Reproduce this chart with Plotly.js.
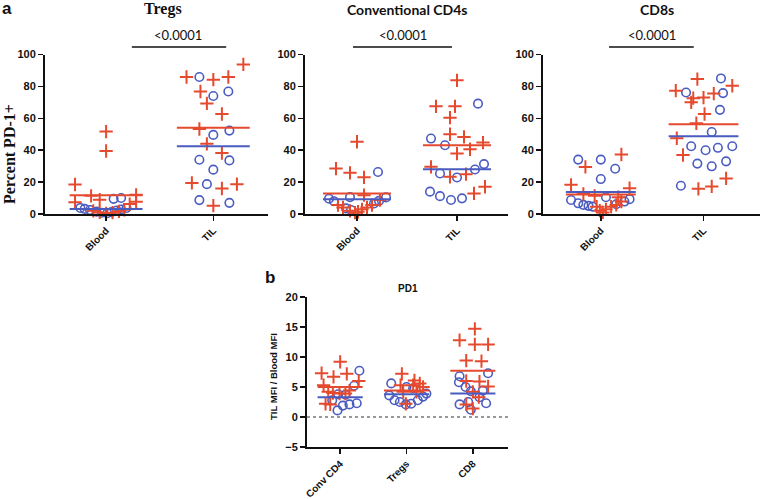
<!DOCTYPE html>
<html>
<head>
<meta charset="utf-8">
<script src="https://cdn.plot.ly/plotly-3.0.1.min.js"></script>
<style>
  html, body { margin: 0; padding: 0; background: #fff; }
  #chart { width: 760px; height: 499px; }
</style>
</head>
<body>
<div id="chart"></div>
<script>
// ---- data (x = horizontal scatter offset within a column) ----
// panel a: Tregs
let tregsBloodPlusX = [0, 0, -0.29, -0.14, -0.06, -0.29, 0.28, 0.28, 0.22, -0.12, -0.06, 0, 0.06, 0.12, 0.17]
let tregsBloodPlusY = [51.7, 39.5, 18.5, 11.4, 9, 7.3, 12, 7.7, 6.2, 2, 1, 0.3, 0.8, 1.6, 2.6]
let tregsBloodCircX = [0.07, 0.14, -0.24, -0.2, -0.15, -0.09, -0.04, 0.01, 0.05, 0.1, 0.14, 0.19]
let tregsBloodCircY = [9.5, 10, 3.8, 3.2, 2.5, 1.5, 0.8, 0.5, 1.2, 2.2, 2.8, 3.8]
let tregsTilPlusX = [-0.25, 0, 0.14, 0.28, -0.12, -0.06, 0.08, -0.13, -0.06, 0.08, -0.2, 0.08, 0.22, 0]
let tregsTilPlusY = [85.9, 84.2, 85.9, 93.8, 76.8, 69.3, 62.7, 53.3, 44, 38.2, 19.5, 16, 18.7, 5.2]
let tregsTilCircX = [-0.13, 0, 0.14, 0, 0.15, -0.13, 0.15, 0, -0.06, -0.13, 0.15]
let tregsTilCircY = [85.9, 74, 76.8, 49.6, 52.3, 34, 33.6, 27.8, 18.7, 8.7, 7]
let tregsMeans = { plus: [11.8, 54], circ: [3.1, 42.5] }

// panel a: Conventional CD4s
let cd4BloodPlusX = [0, -0.21, -0.07, 0.07, 0.07, -0.19, -0.14, -0.07, -0.02, 0.01, 0.05, 0.1, 0.15, 0.23]
let cd4BloodPlusY = [45.3, 28.5, 25.8, 23, 11.8, 5.6, 4.1, 2, 0.8, 1.4, 2.9, 4.1, 5.6, 8.7]
let cd4BloodCircX = [0.21, -0.07, -0.28, -0.23, -0.11, -0.06, 0.17, 0.22, 0.29]
let cd4BloodCircY = [26.3, 10.6, 9.6, 8, 3.5, 2.5, 6.6, 8.2, 10.4]
let cd4TilPlusX = [0, -0.21, -0.02, -0.07, -0.07, 0.07, 0, 0.13, 0.26, -0.26, -0.07, 0.09, 0.17, 0.28]
let cd4TilPlusY = [83.8, 67.5, 67.5, 60.4, 50, 48.3, 37.9, 40.6, 44.8, 29.6, 23.3, 25, 12.9, 17.1]
let cd4TilCircX = [0.21, -0.26, -0.12, -0.17, 0, 0.18, 0.27, -0.27, -0.17, -0.06, 0.05]
let cd4TilCircY = [69.2, 47.3, 43.1, 25.4, 22.9, 27.9, 31.3, 14, 11.2, 8.8, 9.8]
let cd4Means = { plus: [12.9, 43.1], circ: [9.2, 28.1] }

// panel a: CD8s
let cd8BloodPlusX = [0.2, -0.15, -0.29, 0.28, -0.17, -0.06, 0.17, -0.04, -0.01, 0.02, 0.05, 0.1, 0.15, 0.2]
let cd8BloodPlusY = [37.3, 29.5, 18.3, 16.2, 12.6, 11.4, 10.5, 4.6, 2.1, 1, 2.9, 4.6, 5.7, 7.8]
let cd8BloodCircX = [-0.22, 0, 0.14, 0, 0.05, -0.29, -0.22, -0.17, -0.12, -0.08, 0.15, 0.23, 0.28]
let cd8BloodCircY = [34.1, 34.1, 28.4, 21.9, 10.5, 8.8, 6.7, 5.7, 5.1, 4.6, 6.1, 7.8, 9.3]
let cd8TilPlusX = [-0.06, 0.28, -0.27, 0.1, 0, -0.1, -0.12, 0.01, -0.07, -0.26, -0.2, 0.22, 0.08, -0.05]
let cd8TilPlusY = [84.6, 80.4, 77.3, 75.5, 73, 72.6, 70, 62.7, 56.9, 47.5, 37, 22.3, 17.3, 15.8]
let cd8TilCircX = [0.17, -0.17, 0.19, 0.16, 0.08, -0.12, 0.02, 0.14, 0.28, -0.06, 0.08, 0.22, -0.22]
let cd8TilCircY = [85, 76.2, 75.8, 65.3, 51.4, 42.5, 40, 41.5, 42.5, 31.6, 29.9, 33, 17.7]
let cd8Means = { plus: [12.2, 56.2], circ: [13.8, 48.8] }

// panel b: PD1 TIL MFI / Blood MFI
let mfiConvPlusX = [0, -0.28, -0.1, 0.1, 0.28, -0.25, -0.18, -0.11, -0.01, 0.08, 0.14, -0.22, -0.15]
let mfiConvPlusY = [9.2, 7.3, 6.7, 7.2, 6, 5.3, 4.2, 4, 3.9, 3.9, 4.4, 2.2, 2.1]
let mfiConvCircX = [0.29, 0.21, -0.12, -0.03, 0.08, -0.04, 0.04, 0.14, 0.25]
let mfiConvCircY = [7.7, 5.2, 2.8, 3.8, 3.7, 1.1, 1.9, 2.1, 2.3]
let mfiTregPlusX = [-0.07, -0.09, 0.12, 0.2, 0.1, -0.05, -0.01, 0.25, 0.15]
let mfiTregPlusY = [7.2, 5.3, 6.1, 5.6, 5.3, 4.2, 2.2, 5, 4.2]
let mfiTregCircX = [-0.23, -0.26, -0.18, -0.1, -0.01, 0.07, 0.17, 0.25, 0.3, 0, 0.1]
let mfiTregCircY = [5.6, 3.6, 2.8, 2.5, 2.1, 2.2, 2.8, 3.4, 3.9, 5, 4.8]
let mfiCd8PlusX = [0.03, -0.2, 0.03, 0.23, -0.1, 0.13, -0.1, 0.1, 0.23, 0, 0.09, -0.1, 0]
let mfiCd8PlusY = [14.7, 12.8, 12.1, 12.1, 9.4, 9.3, 6, 5.9, 5.1, 4.2, 3.3, 2.1, 1.4]
let mfiCd8CircX = [-0.2, -0.21, -0.11, -0.03, 0.15, 0.23, 0.1, -0.2, -0.07, -0.03, 0.2]
let mfiCd8CircY = [6.8, 5.8, 5, 4.3, 4.4, 7.3, 3.3, 2.1, 2.5, 1.2, 2.3]
let mfiMeans = { plus: [5.0, 4.4, 7.7], circ: [3.3, 3.8, 3.9] }

let topCats = ['Blood', 'TIL']
let mfiCats = ['Conv CD4', 'Tregs', 'CD8']

// ---- drawing ----
const RED = '#e64a2e'
const BLUE = '#4a5cc0'
const W = 760, H = 499
let px = v => v / W
let py = v => 1 - v / H

let traceArr = []

let addPoints = function (ax, center, xs, ys, kind) {
    let red = kind === 'plus'
    traceArr.push({
        x: xs.map(d => center + d),
        y: ys,
        xaxis: 'x' + ax, yaxis: 'y' + ax,
        mode: 'markers', type: 'scatter', cliponaxis: false,
        marker: red
            ? { symbol: 'cross-thin-open', size: 9.5, color: RED, line: { color: RED, width: 2 } }
            : { symbol: 'circle-open', size: 8.5, color: BLUE, line: { color: BLUE, width: 1.6 } }
    })
}

let addMean = function (ax, center, val, kind) {
    traceArr.push({
        x: [center - 0.34, center + 0.34],
        y: [val, val],
        xaxis: 'x' + ax, yaxis: 'y' + ax,
        mode: 'lines', type: 'scatter', cliponaxis: false,
        line: { color: kind === 'plus' ? RED : BLUE, width: 2 }
    })
}

// panel a
addPoints('', 0, tregsBloodCircX, tregsBloodCircY, 'circ')
addPoints('', 0, tregsBloodPlusX, tregsBloodPlusY, 'plus')
addPoints('', 1, tregsTilCircX, tregsTilCircY, 'circ')
addPoints('', 1, tregsTilPlusX, tregsTilPlusY, 'plus')
addPoints('2', 0, cd4BloodCircX, cd4BloodCircY, 'circ')
addPoints('2', 0, cd4BloodPlusX, cd4BloodPlusY, 'plus')
addPoints('2', 1, cd4TilCircX, cd4TilCircY, 'circ')
addPoints('2', 1, cd4TilPlusX, cd4TilPlusY, 'plus')
addPoints('3', 0, cd8BloodCircX, cd8BloodCircY, 'circ')
addPoints('3', 0, cd8BloodPlusX, cd8BloodPlusY, 'plus')
addPoints('3', 1, cd8TilCircX, cd8TilCircY, 'circ')
addPoints('3', 1, cd8TilPlusX, cd8TilPlusY, 'plus')
;[['', tregsMeans], ['2', cd4Means], ['3', cd8Means]].forEach(([ax, m]) => {
    m.plus.forEach((v, i) => addMean(ax, i, v, 'plus'))
    m.circ.forEach((v, i) => addMean(ax, i, v, 'circ'))
})

// panel b
addPoints('4', 0, mfiConvCircX, mfiConvCircY, 'circ')
addPoints('4', 0, mfiConvPlusX, mfiConvPlusY, 'plus')
addPoints('4', 1, mfiTregCircX, mfiTregCircY, 'circ')
addPoints('4', 1, mfiTregPlusX, mfiTregPlusY, 'plus')
addPoints('4', 2, mfiCd8CircX, mfiCd8CircY, 'circ')
addPoints('4', 2, mfiCd8PlusX, mfiCd8PlusY, 'plus')
mfiMeans.plus.forEach((v, i) => addMean('4', i, v, 'plus'))
mfiMeans.circ.forEach((v, i) => addMean('4', i, v, 'circ'))

let tickFont = { family: 'Liberation Sans, Arial, sans-serif', size: 11, color: '#111', weight: 'bold' }

let xAx = function (dom, range, cats, anchor) {
    return {
        domain: dom, range: range, anchor: anchor,
        tickvals: cats.map((c, i) => i), ticktext: cats, tickangle: -45,
        tickfont: Object.assign({}, tickFont, { size: 10 }),
        showline: true, linecolor: '#111', linewidth: 2,
        ticks: 'outside', ticklen: 5, tickwidth: 1.5, tickcolor: '#111',
        showgrid: false, zeroline: false, fixedrange: true
    }
}
let yAx = function (dom, range, dtick, anchor) {
    return {
        domain: dom, range: range, anchor: anchor, dtick: dtick, tick0: 0,
        tickfont: tickFont,
        showline: true, linecolor: '#111', linewidth: 2,
        ticks: 'outside', ticklen: 5, tickwidth: 1.5, tickcolor: '#111',
        showgrid: false, zeroline: false, fixedrange: true
    }
}

let topY = [py(214), py(54.5)]
let sigLine = (xr, x0, x1) => ({
    type: 'line', xref: xr, yref: 'paper', x0: x0, x1: x1, y0: py(47), y1: py(47),
    line: { color: '#111', width: 1.5 }
})
let note = (text, x, y, font, extra) => Object.assign({
    text: text, xref: 'paper', yref: 'paper', x: x, y: y,
    xanchor: 'center', yanchor: 'middle', showarrow: false, font: font
}, extra || {})

let serifBold = { family: 'Liberation Serif, DejaVu Serif, serif', size: 16, color: '#111', weight: 'bold' }
let latoBold = { family: 'Lato, Open Sans, sans-serif', size: 14, color: '#111', weight: 'bold' }
let latoReg = { family: 'Lato, Open Sans, sans-serif', size: 13, color: '#111' }
let sansBold = { family: 'Liberation Sans, Arial, sans-serif', size: 17, color: '#111', weight: 'bold' }

let layout = {
    width: W, height: H,
    margin: { l: 0, r: 0, t: 0, b: 0 },
    showlegend: false,
    paper_bgcolor: '#fff', plot_bgcolor: 'rgba(0,0,0,0)',
    xaxis: xAx([px(45), px(268)], [-0.57, 1.51], topCats, 'y'),
    yaxis: yAx(topY, [0, 100], 20, 'x'),
    xaxis2: xAx([px(305), px(508)], [-0.52, 1.51], topCats, 'y2'),
    yaxis2: yAx(topY, [0, 100], 20, 'x2'),
    xaxis3: xAx([px(543), px(760)], [-0.563, 1.55], topCats, 'y3'),
    yaxis3: yAx(topY, [0, 100], 20, 'x3'),
    xaxis4: xAx([px(307), px(508)], [-0.5, 2.53], mfiCats, 'y4'),
    yaxis4: yAx([py(447), py(297)], [-5, 20], 5, 'x4'),
    shapes: [
        sigLine('x', 0.24, 1.12),
        sigLine('x2', -0.04, 0.95),
        sigLine('x3', 0.08, 0.905),
        { type: 'line', xref: 'paper', yref: 'y4', x0: px(307), x1: px(508), y0: 0, y1: 0,
          line: { color: '#333', width: 1, dash: 'dot' } }
    ],
    annotations: [
        note('a', px(7), py(8), sansBold),
        note('b', px(270), py(277), sansBold),
        note('Tregs', px(163), py(9), serifBold),
        note('Conventional CD4s', px(407), py(9), latoBold),
        note('CD8s', px(657), py(9), latoBold),
        note('&lt;0.0001', px(178), py(35), latoReg),
        note('&lt;0.0001', px(403), py(35), latoReg),
        note('&lt;0.0001', px(652), py(35), latoReg),
        note('Percent PD-1+', px(9), py(154), serifBold, { textangle: -90 }),
        note('PD1', px(408), py(288), { family: 'Liberation Sans, Arial, sans-serif', size: 10, color: '#111', weight: 'bold' }),
        note('TIL MFI / Blood MFI', px(273), py(377), { family: 'Liberation Sans, Arial, sans-serif', size: 9.5, color: '#111', weight: 'bold' }, { textangle: -90 })
    ]
}

Plotly.newPlot('chart', traceArr, layout, { displayModeBar: false, staticPlot: true })
</script>
</body>
</html>
